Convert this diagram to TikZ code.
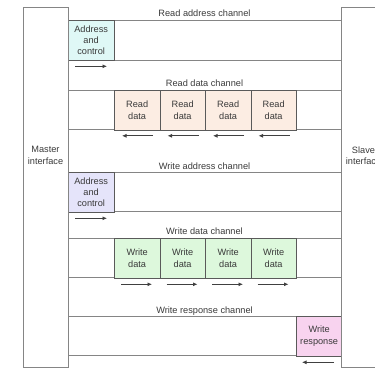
\documentclass[tikz,border=0pt]{standalone}
\usepackage{fontspec}
\setmainfont{Liberation Sans}
\usetikzlibrary{arrows.meta}
\definecolor{linegray}{HTML}{858585}
\definecolor{cellline}{HTML}{5A5A5A}
\definecolor{txtgray}{HTML}{3A3A3A}
\definecolor{rdaddr}{HTML}{DFF8F6}
\definecolor{rddata}{HTML}{FCEDE3}
\definecolor{wraddr}{HTML}{E5E4FA}
\definecolor{wrdata}{HTML}{DDF8DC}
\definecolor{wrresp}{HTML}{F8D3EF}
\begin{document}
\begin{tikzpicture}[x=1pt,y=-1pt,
  font=\fontsize{9.2}{11.3}\selectfont, text=txtgray,
  side/.style={draw=linegray, line width=0.9pt, fill=white, anchor=north west,
    inner sep=0, minimum width=45pt, minimum height=360pt},
  sidetext/.style={align=center},
  cell/.style={draw=cellline, line width=0.8pt, anchor=north west, inner sep=0,
    minimum width=45.5pt, minimum height=39.5pt, align=center},
  chline/.style={draw=linegray, line width=0.9pt},
  chlabel/.style={anchor=base},
  flow/.style={draw=black!75, line width=0.8pt, -{Latex[length=4.5pt,width=4pt]}}]
\useasboundingbox (0,0) rectangle (375,369);

% channel separators
\foreach \y in {20,60,90,129.5,172,211.5,238,277.5,316,355.5}
  \draw[chline] (68,\y) -- (341,\y);

% channel titles
\node[chlabel] (lra) at (204.5,16.5) {Read address channel};
\node[chlabel] (lrd) at (204.5,86.5) {Read data channel};
\node[chlabel] (lwa) at (204.5,169.5) {Write address channel};
\node[chlabel] (lwd) at (204.5,234.5) {Write data channel};
\node[chlabel] (lwr) at (204.5,313.5) {Write response channel};

% read address channel
\node[cell, fill=rdaddr, minimum height=40pt] (ra) at (68,20) {Address\\and\\control};
\coordinate (ras) at ([shift={(7,5.5)}]ra.south west);
\coordinate (rae) at ([shift={(39,5.5)}]ra.south west);
\draw[flow] (ras) -- (rae);

% read data channel
\foreach \i/\x in {1/114,2/159.5,3/205,4/250.5}{
  \node[cell, fill=rddata] (rd\i) at (\x,90) {Read\\data};
  \coordinate (rds\i) at ([shift={(39,5.5)}]rd\i.south west);
  \coordinate (rde\i) at ([shift={(8,5.5)}]rd\i.south west);
  \draw[flow] (rds\i) -- (rde\i);
}

% write address channel
\node[cell, fill=wraddr] (wa) at (68,172) {Address\\and\\control};
\coordinate (was) at ([shift={(7,6)}]wa.south west);
\coordinate (wae) at ([shift={(39,6)}]wa.south west);
\draw[flow] (was) -- (wae);

% write data channel
\foreach \i/\x in {1/114,2/159.5,3/205,4/250.5}{
  \node[cell, fill=wrdata] (wd\i) at (\x,238) {Write\\data};
  \coordinate (wds\i) at ([shift={(7,6)}]wd\i.south west);
  \coordinate (wde\i) at ([shift={(38,6)}]wd\i.south west);
  \draw[flow] (wds\i) -- (wde\i);
}

% write response channel
\node[cell, fill=wrresp] (wr) at (296,316) {Write\\response};
\coordinate (wrs) at ([shift={(38,6)}]wr.south west);
\coordinate (wre) at ([shift={(6,6)}]wr.south west);
\draw[flow] (wrs) -- (wre);

% interfaces
\node[side] (master) at (23,7) {};
\node[side] (slave) at (341,7) {};
\node[sidetext] (mtext) at (45.5,155.5) {Master\\interface};
\node[sidetext] (stext) at (363.5,155.5) {Slave\\interface};
\end{tikzpicture}
\end{document}
